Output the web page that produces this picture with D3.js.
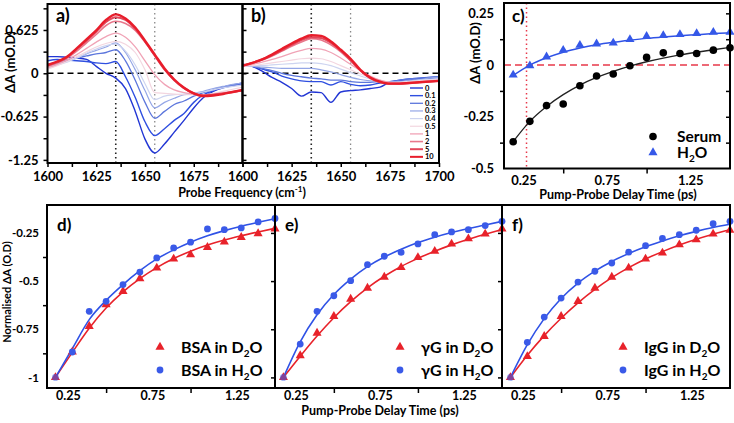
<!DOCTYPE html>
<html><head><meta charset="utf-8">
<script src="https://cdn.jsdelivr.net/npm/d3@7"></script>
<style>body{margin:0;background:#fff}</style>
</head><body><svg id="chart" width="734" height="423"></svg>
<script>
// ---------- DATA ----------
const freq = [1600,1605,1610,1615,1620,1625,1630,1635,1640,1645,1650,1655,1660,1665,1670,1675,1680,1685,1690,1695,1700];
const specLabels = ["0","0.1","0.2","0.3","0.4","0.5","1","2","5","10"];
// panel a (serum)
const a_0  = [0.24,0.24,0.23,0.22,0.20,0.10,0.00,-0.07,-0.22,-0.55,-0.95,-1.15,-1.02,-0.85,-0.68,-0.50,-0.35,-0.26,-0.21,-0.18,-0.15];
const a_01 = [0.18,0.20,0.19,0.18,0.17,0.15,0.14,0.17,-0.05,-0.35,-0.70,-0.90,-0.80,-0.68,-0.58,-0.42,-0.31,-0.25,-0.20,-0.17,-0.14];
const a_02 = [0.13,0.16,0.19,0.22,0.25,0.28,0.30,0.34,0.18,-0.10,-0.42,-0.65,-0.55,-0.45,-0.40,-0.33,-0.28,-0.24,-0.20,-0.17,-0.15];
const a_03 = [0.10,0.14,0.18,0.22,0.28,0.33,0.38,0.44,0.30,0.05,-0.25,-0.50,-0.42,-0.36,-0.31,-0.29,-0.26,-0.22,-0.19,-0.16,-0.14];
const a_04 = [0.08,0.12,0.16,0.22,0.29,0.35,0.40,0.42,0.32,0.12,-0.15,-0.38,-0.33,-0.31,-0.30,-0.29,-0.27,-0.24,-0.21,-0.19,-0.17];
const a_05 = [0.06,0.11,0.17,0.24,0.31,0.38,0.43,0.46,0.42,0.30,0.05,-0.28,-0.29,-0.30,-0.31,-0.31,-0.31,-0.29,-0.26,-0.23,-0.20];
const a_1  = [0.08,0.13,0.19,0.27,0.36,0.45,0.53,0.58,0.52,0.38,0.18,-0.02,-0.16,-0.24,-0.28,-0.30,-0.31,-0.30,-0.28,-0.26,-0.24];
const a_2  = [0.10,0.15,0.22,0.32,0.44,0.56,0.69,0.75,0.72,0.62,0.45,0.25,0.05,-0.10,-0.22,-0.29,-0.32,-0.31,-0.29,-0.27,-0.25];
const a_5  = [0.11,0.16,0.23,0.35,0.47,0.60,0.74,0.81,0.77,0.64,0.46,0.26,0.06,-0.10,-0.21,-0.29,-0.32,-0.31,-0.29,-0.27,-0.25];
const a_10 = [0.12,0.17,0.24,0.36,0.49,0.62,0.77,0.85,0.79,0.66,0.47,0.27,0.07,-0.09,-0.21,-0.29,-0.33,-0.32,-0.30,-0.27,-0.24];
// panel b (water)
const b_0  = [0.13,0.10,0.03,-0.06,-0.13,-0.22,-0.33,-0.27,-0.28,-0.42,-0.27,-0.25,-0.24,-0.22,-0.20,-0.13,-0.11,-0.09,-0.08,-0.07,-0.06];
const b_01 = [0.12,0.10,0.06,0.02,-0.04,-0.08,-0.11,-0.12,-0.12,-0.17,-0.12,-0.16,-0.18,-0.17,-0.14,-0.12,-0.10,-0.08,-0.07,-0.06,-0.05];
const b_02 = [0.11,0.10,0.07,0.04,0.00,-0.03,-0.05,-0.07,-0.08,-0.10,-0.10,-0.12,-0.13,-0.13,-0.12,-0.12,-0.10,-0.08,-0.07,-0.06,-0.05];
const b_03 = [0.10,0.10,0.09,0.08,0.07,0.07,0.07,0.07,0.05,0.02,-0.02,-0.06,-0.09,-0.11,-0.12,-0.13,-0.12,-0.10,-0.09,-0.07,-0.06];
const b_04 = [0.10,0.11,0.11,0.12,0.13,0.14,0.15,0.15,0.14,0.11,0.06,0.01,-0.04,-0.08,-0.11,-0.13,-0.13,-0.12,-0.10,-0.09,-0.08];
const b_05 = [0.10,0.11,0.13,0.15,0.17,0.19,0.21,0.22,0.21,0.17,0.11,0.05,-0.01,-0.06,-0.10,-0.13,-0.13,-0.12,-0.11,-0.10,-0.09];
const b_1  = [0.10,0.13,0.16,0.20,0.24,0.29,0.33,0.36,0.35,0.30,0.22,0.13,0.04,-0.04,-0.10,-0.13,-0.14,-0.13,-0.12,-0.11,-0.10];
const b_2  = [0.11,0.15,0.19,0.25,0.32,0.39,0.45,0.50,0.48,0.41,0.31,0.18,0.04,-0.07,-0.13,-0.15,-0.15,-0.14,-0.13,-0.12,-0.11];
const b_5  = [0.11,0.15,0.20,0.26,0.33,0.41,0.48,0.52,0.51,0.44,0.33,0.19,0.04,-0.07,-0.13,-0.15,-0.15,-0.14,-0.13,-0.12,-0.11];
const b_10 = [0.11,0.15,0.20,0.27,0.35,0.43,0.50,0.55,0.54,0.46,0.34,0.21,0.05,-0.06,-0.12,-0.15,-0.15,-0.14,-0.13,-0.12,-0.11];
// panel c
const delay = [0.2,0.3,0.4,0.5,0.6,0.7,0.8,0.9,1.0,1.1,1.2,1.3,1.4,1.5];
const serum    = [-0.371,-0.272,-0.196,-0.188,-0.100,-0.053,-0.043,-0.003,0.037,0.059,0.056,0.056,0.072,0.084];
const serumFit = [-0.370,-0.272,-0.200,-0.143,-0.097,-0.060,-0.030,-0.005,0.016,0.034,0.049,0.062,0.074,0.085];
const water    = [-0.048,-0.003,0.040,0.072,0.096,0.103,0.107,0.124,0.139,0.143,0.148,0.153,0.159,0.159];
const waterFit = [-0.050,0.000,0.035,0.062,0.082,0.098,0.110,0.120,0.129,0.136,0.142,0.147,0.152,0.156];
// panels d-f (normalised)
const d_D2O    = [-1.0,-0.868,-0.735,-0.622,-0.553,-0.487,-0.432,-0.385,-0.363,-0.325,-0.297,-0.273,-0.253,-0.229];
const d_H2O    = [-1.0,-0.868,-0.657,-0.605,-0.518,-0.453,-0.380,-0.328,-0.298,-0.229,-0.233,-0.224,-0.193,-0.175];
const d_D2OFit = [-1.0,-0.870,-0.745,-0.640,-0.556,-0.487,-0.430,-0.383,-0.345,-0.313,-0.287,-0.265,-0.245,-0.226];
const d_H2OFit = [-1.0,-0.850,-0.700,-0.600,-0.518,-0.446,-0.385,-0.338,-0.298,-0.265,-0.238,-0.215,-0.195,-0.176];
const e_D2O    = [-1.0,-0.887,-0.770,-0.683,-0.593,-0.536,-0.479,-0.429,-0.377,-0.345,-0.307,-0.280,-0.255,-0.229];
const e_H2O    = [-1.0,-0.827,-0.657,-0.576,-0.498,-0.415,-0.371,-0.351,-0.307,-0.259,-0.245,-0.233,-0.212,-0.190];
const e_D2OFit = [-1.0,-0.890,-0.785,-0.690,-0.607,-0.535,-0.475,-0.424,-0.382,-0.345,-0.312,-0.283,-0.257,-0.232];
const e_H2OFit = [-1.0,-0.815,-0.675,-0.570,-0.490,-0.425,-0.375,-0.335,-0.300,-0.272,-0.248,-0.227,-0.209,-0.190];
const f_D2O    = [-1.0,-0.891,-0.787,-0.683,-0.605,-0.536,-0.479,-0.432,-0.385,-0.354,-0.311,-0.285,-0.255,-0.236];
const f_H2O    = [-1.0,-0.818,-0.687,-0.588,-0.505,-0.449,-0.406,-0.350,-0.316,-0.279,-0.259,-0.236,-0.202,-0.190];
const f_D2OFit = [-1.0,-0.885,-0.783,-0.693,-0.613,-0.543,-0.482,-0.430,-0.385,-0.347,-0.313,-0.283,-0.257,-0.234];
const f_H2OFit = [-1.0,-0.830,-0.695,-0.590,-0.510,-0.448,-0.398,-0.357,-0.322,-0.292,-0.265,-0.242,-0.222,-0.205];
const proteins = ["BSA","γG","IgG"];
const timeTickLabels = [0.25,0.75,1.25];

// ---------- STYLE ----------
const FONT = "Lato, 'Open Sans', sans-serif";
const specColors = ["#2236d4","#2f4fe0","#5c76dc","#94a6e6","#cdd4f0","#f3d6e0","#f0a3b6","#e8788c","#e2475a","#e81d2b"];
const specWidths = [1.4,1.4,1.3,1.2,1.2,1.2,1.3,1.6,2,2.4];
const RED = "#e8222a", BLUE = "#2f52e6";

const svg = d3.select("#chart");
const defs = svg.append("defs");

function box(x0,y0,x1,y1){
  svg.append("rect").attr("x",x0).attr("y",y0).attr("width",x1-x0).attr("height",y1-y0)
    .attr("fill","none").attr("stroke","#000").attr("stroke-width",2);
}
function clip(id,x0,y0,x1,y1){
  defs.append("clipPath").attr("id",id).append("rect").attr("x",x0).attr("y",y0).attr("width",x1-x0).attr("height",y1-y0);
}
function axis(gen, tr, values, size, fmt, pad, fs){
  const g = svg.append("g").attr("transform",tr)
    .call(gen.tickValues(values).tickSize(size).tickSizeOuter(0).tickPadding(pad||3).tickFormat(fmt||(()=>"")));
  g.select(".domain").remove();
  g.selectAll("line").attr("stroke","#000").attr("stroke-width",1.5);
  g.selectAll("text").attr("font-family",FONT).attr("font-weight","bold").attr("font-size",fs||13).attr("fill","#000");
  return g;
}
function txt(x,y,s,fs,anchor){
  return svg.append("text").attr("x",x).attr("y",y).text(s).attr("font-family",FONT)
    .attr("font-weight","bold").attr("font-size",fs).attr("text-anchor",anchor||"start").attr("fill","#000");
}
function vtxt(x,y,s,fs){
  return svg.append("text").attr("transform",`translate(${x},${y}) rotate(-90)`).text(s)
    .attr("font-family",FONT).attr("font-weight","bold").attr("font-size",fs)
    .attr("text-anchor","middle").attr("dominant-baseline","central").attr("fill","#000");
}

// ---------- PANELS a & b ----------
const ySpec = d3.scaleLinear([-1.295,1.0],[163,4]);
const xA = d3.scaleLinear([1600,1700],[47.5,242.5]);
const xB = d3.scaleLinear([1600,1700],[242.5,439]);
const tracesA = [a_0,a_01,a_02,a_03,a_04,a_05,a_1,a_2,a_5,a_10];
const tracesB = [b_0,b_01,b_02,b_03,b_04,b_05,b_1,b_2,b_5,b_10];

function specPanel(x, traces, id){
  const [x0,x1] = x.range();
  clip(id,x0,4,x1,163);
  const g = svg.append("g").attr("clip-path",`url(#${id})`);
  g.append("line").attr("x1",x0).attr("x2",x1).attr("y1",ySpec(0)).attr("y2",ySpec(0))
    .attr("stroke","#000").attr("stroke-width",1.5).attr("stroke-dasharray","6,4");
  g.append("line").attr("x1",x(1635)).attr("x2",x(1635)).attr("y1",4).attr("y2",163)
    .attr("stroke","#222").attr("stroke-width",1.6).attr("stroke-dasharray","1.5,3");
  g.append("line").attr("x1",x(1655)).attr("x2",x(1655)).attr("y1",4).attr("y2",163)
    .attr("stroke","#888").attr("stroke-width",1.3).attr("stroke-dasharray","1.5,3");
  const line = d3.line().x((d,i)=>x(freq[i])).y(d=>ySpec(d)).curve(d3.curveMonotoneX);
  traces.forEach((t,i)=>{
    g.append("path").attr("d",line(t)).attr("fill","none")
      .attr("stroke",specColors[i]).attr("stroke-width",specWidths[i]);
  });
}
specPanel(xA, tracesA, "clipA");
specPanel(xB, tracesB, "clipB");

// axes a
const fmtSpec = v => ({0.625:"0.625",0:"0","-0.625":"-0.625","-1.25":"-1.25"})[v];
axis(d3.axisLeft(ySpec), "translate(47.5,0)", d3.range(-4,4).map(k=>k*0.3125), 4);
axis(d3.axisLeft(ySpec), "translate(47.5,0)", [0.625,0,-0.625,-1.25], 0, fmtSpec, 9);
axis(d3.axisRight(ySpec), "translate(242.5,0)", d3.range(-4,4).map(k=>k*0.3125), 4);
axis(d3.axisBottom(xA), "translate(0,163)", d3.range(1600,1701,12.5), 4);
axis(d3.axisBottom(xA), "translate(0,163)", [1600,1625,1650,1675], 0, d3.format("d"), 9);
axis(d3.axisBottom(xB), "translate(0,163)", d3.range(1600,1701,12.5), 4);
axis(d3.axisBottom(xB), "translate(0,163)", [1600,1625,1650,1675,1700], 0, d3.format("d"), 9);
box(47.5,4,242.5,163);
box(242.5,4,439,163);
txt(56,22,"a)",18);
txt(251,22,"b)",18);
vtxt(10,62,"ΔA (mO.D)",13);
const tA = txt(242,197,"Probe Frequency (cm",12.5,"middle");
tA.append("tspan").attr("dy",-5).attr("font-size",8).text("-1");
tA.append("tspan").attr("dy",5).text(")");

// legend b
specLabels.forEach((s,i)=>{
  const y = 88 + i*7.65;
  svg.append("line").attr("x1",410).attr("x2",423).attr("y1",y).attr("y2",y)
    .attr("stroke",specColors[i]).attr("stroke-width",Math.min(specWidths[i],2));
  txt(425,y+2.5,s,7.5);
});

// ---------- PANEL c ----------
const xC = d3.scaleLinear([0.145,1.5],[504,730]);
const yC = d3.scaleLinear([-0.5,0.3],[168.5,3]);
clip("clipC",504,3,730,168.5);
const gC = svg.append("g").attr("clip-path","url(#clipC)");
gC.append("line").attr("x1",504).attr("x2",730).attr("y1",yC(0)).attr("y2",yC(0))
  .attr("stroke","#e8384a").attr("stroke-width",1.5).attr("stroke-dasharray","7,4");
gC.append("line").attr("x1",xC(0.28)).attr("x2",xC(0.28)).attr("y1",3).attr("y2",168.5)
  .attr("stroke","#e8384a").attr("stroke-width",1.5).attr("stroke-dasharray","1.5,3");
const lineC = d3.line().x((d,i)=>xC(delay[i])).y(d=>yC(d)).curve(d3.curveMonotoneX);
svg.append("path").attr("d",lineC(serumFit)).attr("fill","none").attr("stroke","#222").attr("stroke-width",1.3);
svg.append("path").attr("d",lineC(waterFit)).attr("fill","none").attr("stroke",BLUE).attr("stroke-width",1.5);
const tri = d3.symbol(d3.symbolTriangle, 36);
svg.selectAll(".cs").data(serum).join("circle").attr("cx",(d,i)=>xC(delay[i])).attr("cy",d=>yC(d)).attr("r",3.8).attr("fill","#000");
svg.selectAll(".cw").data(water).join("path").attr("d",tri)
  .attr("transform",(d,i)=>`translate(${xC(delay[i])},${yC(d)})`).attr("fill","#3558e8");
axis(d3.axisLeft(yC), "translate(504,0)", [0.125,-0.125,-0.375], 4);
axis(d3.axisLeft(yC), "translate(504,0)", [0.25,0,-0.25,-0.5], 0, v=>v===0?"0":String(v), 10);
axis(d3.axisRight(yC), "translate(730,0)", [0.25,0.125,-0.125,-0.25,-0.375], -4);
axis(d3.axisBottom(xC), "translate(0,168.5)", [0.5,1.0], 5);
axis(d3.axisBottom(xC), "translate(2,168.5)", timeTickLabels, 0, d3.format(".2f"), 7);
box(504,3,730,168.5);
txt(512,22,"c)",17);
vtxt(475,53,"ΔA (mO.D)",13);
txt(618,199,"Pump-Probe Delay Time (ps)",12.5,"middle");
// legend c
svg.append("circle").attr("cx",653).attr("cy",136.5).attr("r",3.8).attr("fill","#000");
txt(677,141.5,"Serum",15.5);
svg.append("path").attr("d",tri).attr("transform","translate(653,152.5)").attr("fill","#3558e8");
const hc = txt(677,158,"H",15.5);
hc.append("tspan").attr("dy",4).attr("font-size",10).text("2");
hc.append("tspan").attr("dy",-4).text("O");

// ---------- PANELS d, e, f ----------
const yN = d3.scaleLinear([-1.055,-0.105],[388,205]);
const bottomPanels = [
  {x0:47, x1:275, D:d_D2O, H:d_H2O, DF:d_D2OFit, HF:d_H2OFit, name:proteins[0], lab:"d)", lx:160},
  {x0:275,x1:502, D:e_D2O, H:e_H2O, DF:e_D2OFit, HF:e_H2OFit, name:proteins[1], lab:"e)", lx:400},
  {x0:502,x1:730, D:f_D2O, H:f_H2O, DF:f_D2OFit, HF:f_H2OFit, name:proteins[2], lab:"f)", lx:623}
];
bottomPanels.forEach((p,k)=>{
  const x = d3.scaleLinear([0.15,1.5],[p.x0,p.x1]);
  const ln = d3.line().x((d,i)=>x(delay[i])).y(d=>yN(d)).curve(d3.curveMonotoneX);
  svg.append("path").attr("d",ln(p.DF)).attr("fill","none").attr("stroke",RED).attr("stroke-width",1.6);
  svg.append("path").attr("d",ln(p.HF)).attr("fill","none").attr("stroke",BLUE).attr("stroke-width",1.6);
  svg.append("g").selectAll("path").data(p.D).join("path").attr("d",tri)
    .attr("transform",(d,i)=>`translate(${x(delay[i])},${yN(d)})`).attr("fill",RED);
  svg.append("g").selectAll("circle").data(p.H).join("circle")
    .attr("cx",(d,i)=>x(delay[i])).attr("cy",d=>yN(d)).attr("r",3.4).attr("fill","#3a5ae8")
    .attr("fill-opacity",(d,i)=>i===0?0.6:1);
  if(k===0){
    axis(d3.axisLeft(yN), `translate(${p.x0},0)`, [-0.375,-0.625,-0.875], 4);
    axis(d3.axisLeft(yN), `translate(${p.x0},0)`, [-0.25,-0.5,-0.75,-1], 0, v=>String(v), 8, 11.5);
  } else {
    axis(d3.axisLeft(yN), `translate(${p.x0},0)`, [-0.25,-0.5,-0.75,-1], 4);
  }
  axis(d3.axisBottom(x), "translate(0,388)", [0.5,1.0], 5);
  axis(d3.axisBottom(x), "translate(4,388)", timeTickLabels, 0, d3.format(".2f"), 3, 12.5);
  box(p.x0,205,p.x1,388);
  txt(p.x0+10,231,p.lab,17);
  svg.append("path").attr("d",tri).attr("transform",`translate(${p.lx},347)`).attr("fill",RED);
  svg.append("circle").attr("cx",p.lx).attr("cy",370).attr("r",3.4).attr("fill","#3a5ae8");
  [["D",352.5],["H",376]].forEach(([el,y])=>{
    const t = txt(p.lx+21,y,p.name+" in "+el,16);
    t.append("tspan").attr("dy",4).attr("font-size",10).text("2");
    t.append("tspan").attr("dy",-4).text("O");
  });
});
vtxt(6,292,"Normalised ΔA (O.D)",11);
txt(380,415,"Pump-Probe Delay Time (ps)",12.5,"middle");
</script></body></html>
